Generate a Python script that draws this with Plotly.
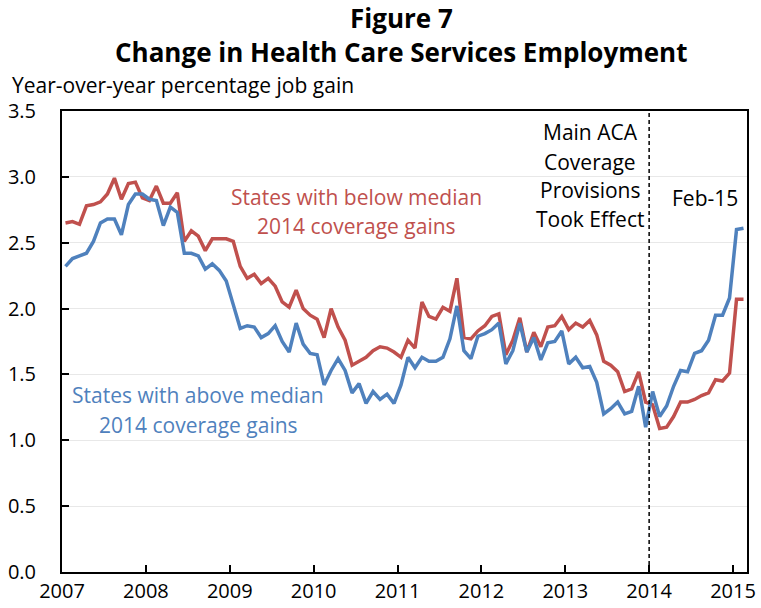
import numpy as np
import pandas as pd
import plotly.graph_objects as go

# ---- data ----
months = pd.date_range("2007-01-01", "2015-02-01", freq="MS")
years = ["2007", "2008", "2009", "2010", "2011", "2012", "2013", "2014", "2015"]

below_median = [
    2.65, 2.66, 2.64, 2.78, 2.79, 2.81, 2.87, 2.99, 2.83, 2.95, 2.96, 2.84,
    2.82, 2.93, 2.80, 2.80, 2.88, 2.51, 2.59, 2.55, 2.44, 2.53, 2.53, 2.53,
    2.51, 2.32, 2.23, 2.26, 2.19, 2.23, 2.17, 2.05, 2.01, 2.14, 2.00, 1.95,
    1.92, 1.78, 2.00, 1.86, 1.76, 1.57, 1.60, 1.63, 1.68, 1.71, 1.70, 1.67,
    1.63, 1.76, 1.70, 2.05, 1.94, 1.92, 2.01, 1.98, 2.23, 1.78, 1.77, 1.83,
    1.87, 1.94, 1.96, 1.65, 1.76, 1.93, 1.67, 1.82, 1.71, 1.86, 1.87, 1.94,
    1.84, 1.89, 1.86, 1.91, 1.80, 1.60, 1.57, 1.52, 1.37, 1.39, 1.52, 1.29,
    1.27, 1.09, 1.10, 1.18, 1.29, 1.29, 1.31, 1.34, 1.36, 1.46, 1.45, 1.51,
    2.07, 2.07,
]
above_median = [
    2.32, 2.38, 2.40, 2.42, 2.51, 2.65, 2.68, 2.68, 2.56, 2.79, 2.87, 2.87,
    2.83, 2.82, 2.63, 2.77, 2.73, 2.42, 2.42, 2.40, 2.30, 2.34, 2.29, 2.21,
    2.03, 1.85, 1.87, 1.86, 1.78, 1.81, 1.87, 1.75, 1.67, 1.89, 1.73, 1.66,
    1.65, 1.42, 1.53, 1.62, 1.53, 1.36, 1.43, 1.28, 1.37, 1.31, 1.35, 1.28,
    1.42, 1.63, 1.55, 1.63, 1.60, 1.60, 1.63, 1.77, 2.02, 1.68, 1.62, 1.79,
    1.81, 1.84, 1.89, 1.58, 1.68, 1.89, 1.67, 1.78, 1.61, 1.74, 1.75, 1.83,
    1.58, 1.63, 1.55, 1.56, 1.44, 1.20, 1.24, 1.29, 1.20, 1.22, 1.41, 1.10,
    1.37, 1.18, 1.26, 1.41, 1.53, 1.52, 1.66, 1.68, 1.76, 1.95, 1.95, 2.08,
    2.60, 2.61,
]

RED = "#C0504D"
BLUE = "#4F81BD"
FONT = "Open Sans"

x = np.arange(len(months))
# category boundaries at the start of each year
year_starts = [i - 0.5 for i, m in enumerate(months) if m.month == 1]
aca_x = [i - 0.5 for i, m in enumerate(months) if m.year == 2014 and m.month == 1][0]

fig = go.Figure()
fig.add_trace(go.Scatter(x=x, y=below_median, mode="lines",
                         line=dict(color=RED, width=3.5), name="below"))
fig.add_trace(go.Scatter(x=x, y=above_median, mode="lines",
                         line=dict(color=BLUE, width=3.5), name="above"))

fig.add_shape(type="line", xref="x", yref="paper", x0=aca_x, x1=aca_x, y0=0, y1=1,
              line=dict(color="black", width=1.5, dash="4px,3px"))

W, H = 761, 608
L, R, T, B = 62, 14, 111, 36
pw, ph = W - L - R, H - T - B

def px(xp):
    return (xp - L) / pw

def py(yp):
    return (H - B - yp) / ph

annots = []
def txt(text, xp, yp, size, color="black", bold=False, xanchor="center"):
    annots.append(dict(text=f"<b>{text}</b>" if bold else text, x=px(xp), y=py(yp),
                       xref="paper", yref="paper", xanchor=xanchor, yanchor="middle",
                       showarrow=False, font=dict(family=FONT, size=size, color=color)))

txt("Figure 7", 401, 18, 26, bold=True)
txt("Change in Health Care Services Employment", 401, 52, 26, bold=True)
txt("Year-over-year percentage job gain", 10, 85, 21, xanchor="left")
txt("States with below median", 356, 197, 21, RED)
txt("2014 coverage gains", 356, 226, 21, RED)
txt("States with above median", 198, 395, 21, BLUE)
txt("2014 coverage gains", 198, 425, 21, BLUE)
for t, yp in [("Main ACA", 132), ("Coverage", 162), ("Provisions", 190), ("Took Effect", 219)]:
    txt(t, 590, yp, 21)
txt("Feb-15", 705, 198, 21)

fig.update_layout(
    width=W, height=H,
    margin=dict(l=L, r=R, t=T, b=B, autoexpand=False),
    paper_bgcolor="white", plot_bgcolor="white",
    showlegend=False,
    annotations=annots,
    font=dict(family=FONT, size=20, color="black"),
)
fig.update_xaxes(
    range=[-0.5, len(months) - 0.5],
    tickmode="array", tickvals=year_starts, ticktext=years,
    ticks="inside", ticklen=7, tickwidth=1.5, tickcolor="black",
    showline=True, linecolor="black", linewidth=2, mirror=True,
    showgrid=False, zeroline=False, automargin=False,
    tickfont=dict(family=FONT, size=20, color="black"),
)
fig.update_yaxes(
    range=[0, 3.5], dtick=0.5, tickformat=".1f",
    ticks="inside", ticklen=7, tickwidth=1.5, tickcolor="black",
    showline=True, linecolor="black", linewidth=2, mirror=True,
    showgrid=True, gridcolor="#E8E8E8", gridwidth=1, zeroline=False,
    automargin=False, ticklabelstandoff=20,
    tickfont=dict(family=FONT, size=20, color="black"),
)

fig.write_html("out.html", config={"displayModeBar": False},
               post_script="document.body.style.margin='0';")
